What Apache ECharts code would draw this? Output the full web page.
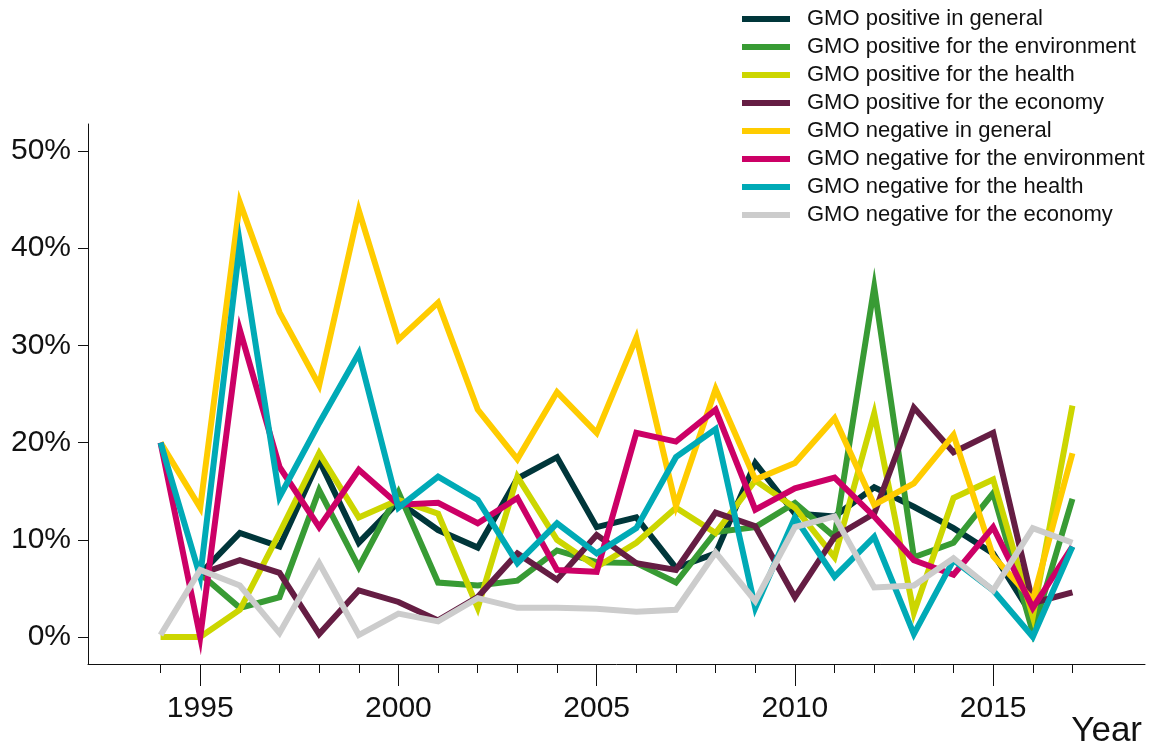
<!DOCTYPE html>
<html>
<head>
<meta charset="utf-8">
<title>GMO attitudes by year</title>
<script src="https://cdn.jsdelivr.net/npm/echarts@6.0.0/dist/echarts.min.js"></script>
<style>
  html, body { margin: 0; padding: 0; background: #ffffff; }
  #chart { width: 1158px; height: 746px; }
</style>
</head>
<body>
<div id="chart"></div>
<script>
// values (share of articles, %)
const years = [1994, 1995, 1996, 1997, 1998, 1999, 2000, 2001, 2002, 2003, 2004, 2005,
  2006, 2007, 2008, 2009, 2010, 2011, 2012, 2013, 2014, 2015, 2016, 2017];

const posGeneral = [null, 6.5, 10.7, 9.3, 18.2, 9.7, 13.9, 11.0, 9.2, 16.3, 18.5, 11.3,
  12.3, 7.1, 8.6, 17.9, 12.7, 12.4, 15.4, 13.4, 11.2, 8.6, 2.1, null];
const posEnvironment = [null, 6.5, 3.0, 4.1, 15.1, 7.2, 14.9, 5.6, 5.3, 5.8, 8.9, 7.7,
  7.6, 5.6, 10.8, 11.3, 13.8, 10.3, 36.0, 8.2, 9.7, 14.8, 0.5, 14.2];
const posHealth = [0, 0, 2.8, 10.7, 18.9, 12.3, 14.1, 12.7, 3.0, 16.5, 10.0, 7.2,
  9.7, 13.3, 10.7, 16.1, 13.3, 8.2, 23.0, 2.5, 14.3, 16.2, 2.1, 23.8];
const posEconomy = [null, 6.5, 7.9, 6.6, 0.3, 4.8, 3.6, 1.7, 4.1, 8.6, 5.9, 10.5,
  7.6, 6.9, 12.8, 11.4, 4.1, 10.3, 12.7, 23.6, 19.0, 21.0, 3.5, 4.6];
const negGeneral = [20, 13.3, 44.7, 33.4, 25.9, 43.9, 30.6, 34.4, 23.4, 18.3, 25.2, 21.0,
  30.8, 13.5, 25.5, 16.2, 17.9, 22.5, 13.6, 15.8, 20.8, 8.3, 3.8, 18.9];
const negEnvironment = [20, 0, 31.6, 17.5, 11.3, 17.2, 13.6, 13.8, 11.7, 14.3, 6.9, 6.7,
  21.0, 20.1, 23.4, 13.1, 15.3, 16.4, 12.4, 7.9, 6.4, 11.3, 3.0, 9.3];
const negHealth = [20, 6.2, 40.5, 14.4, 22.0, 29.2, 13.3, 16.5, 14.1, 7.6, 11.7, 8.6,
  11.2, 18.5, 21.4, 3.0, 12.3, 6.2, 10.3, 0.3, 7.9, 4.8, 0, 9.3];
const negEconomy = [0.2, 6.9, 5.3, 0.4, 7.6, 0.2, 2.4, 1.6, 4.0, 3.0, 3.0, 2.9,
  2.6, 2.8, 8.7, 3.7, 11.3, 12.4, 5.1, 5.3, 8.1, 4.8, 11.2, 9.7];

const majorYears = [1995, 2000, 2005, 2010, 2015];
const percentTicks = [0, 10, 20, 30, 40, 50];

const seriesDefs = [
  { name: "GMO positive in general", color: "#00363a", values: posGeneral },
  { name: "GMO positive for the environment", color: "#389b34", values: posEnvironment },
  { name: "GMO positive for the health", color: "#ccd600", values: posHealth },
  { name: "GMO positive for the economy", color: "#651d43", values: posEconomy },
  { name: "GMO negative in general", color: "#ffcc00", values: negGeneral },
  { name: "GMO negative for the environment", color: "#cc0066", values: negEnvironment },
  { name: "GMO negative for the health", color: "#00aab6", values: negHealth },
  { name: "GMO negative for the economy", color: "#cccccc", values: negEconomy },
];

const FONT = "'Liberation Sans', Arial, Helvetica, sans-serif";
const X_MIN = 1992.17;
const X_MAX = 2018.83;

const chart = echarts.init(document.getElementById("chart"), null, { renderer: "canvas" });

const series = seriesDefs.map((def) => ({
  name: def.name,
  type: "line",
  xAxisIndex: 0,
  yAxisIndex: 0,
  showSymbol: false,
  symbol: "none",
  color: def.color,
  lineStyle: { width: 6, color: def.color, join: "miter", cap: "butt" },
  emphasis: { disabled: true },
  data: years.map((year, i) => [year, def.values[i]]),
}));

chart.setOption({
  animation: false,
  backgroundColor: "#ffffff",
  textStyle: { fontFamily: FONT },
  legend: {
    orient: "vertical",
    left: 742,
    top: 8,
    padding: 0,
    icon: "rect",
    itemWidth: 48,
    itemHeight: 6,
    itemGap: 6,
    selectedMode: false,
    data: seriesDefs.map((d) => d.name),
    textStyle: {
      fontFamily: FONT,
      fontSize: 22,
      lineHeight: 22,
      color: "#111111",
      padding: [0, 0, 0, 12],
    },
  },
  grid: {
    left: 88,
    right: 13,
    top: 124,
    bottom: 82,
    containLabel: false,
    outerBoundsMode: "none",
  },
  xAxis: [
    {
      type: "value",
      position: "bottom",
      min: X_MIN,
      max: X_MAX,
      name: "Year",
      nameLocation: "end",
      nameGap: -3,
      nameMoveOverlap: false,
      nameTextStyle: {
        fontFamily: FONT,
        fontSize: 35,
        color: "#111111",
        align: "right",
        verticalAlign: "top",
        padding: [50, 0, 0, 0],
      },
      axisLine: { show: true, onZero: false, lineStyle: { color: "#111111", width: 1 } },
      axisTick: {
        show: true,
        length: 22,
        customValues: majorYears,
        lineStyle: { color: "#111111", width: 1 },
      },
      axisLabel: {
        show: true,
        customValues: majorYears,
        margin: 30,
        fontSize: 30,
        color: "#111111",
        fontFamily: FONT,
        formatter: (v) => String(Math.round(v)),
      },
      splitLine: { show: false },
    },
    {
      type: "value",
      position: "bottom",
      min: X_MIN,
      max: X_MAX,
      axisLine: { show: false, onZero: false },
      axisTick: {
        show: true,
        length: 9,
        customValues: years,
        lineStyle: { color: "#111111", width: 1 },
      },
      axisLabel: { show: false },
      splitLine: { show: false },
    },
  ],
  yAxis: {
    type: "value",
    min: -2.78,
    max: 52.78,
    axisLine: { show: true, onZero: false, lineStyle: { color: "#111111", width: 1 } },
    axisTick: {
      show: true,
      length: 10,
      customValues: percentTicks,
      lineStyle: { color: "#111111", width: 1 },
    },
    axisLabel: {
      show: true,
      customValues: percentTicks,
      margin: 17,
      fontSize: 30,
      color: "#111111",
      fontFamily: FONT,
      formatter: (v) => `${Math.round(v)}%`,
    },
    splitLine: { show: false },
  },
  series,
});
</script>
</body>
</html>
